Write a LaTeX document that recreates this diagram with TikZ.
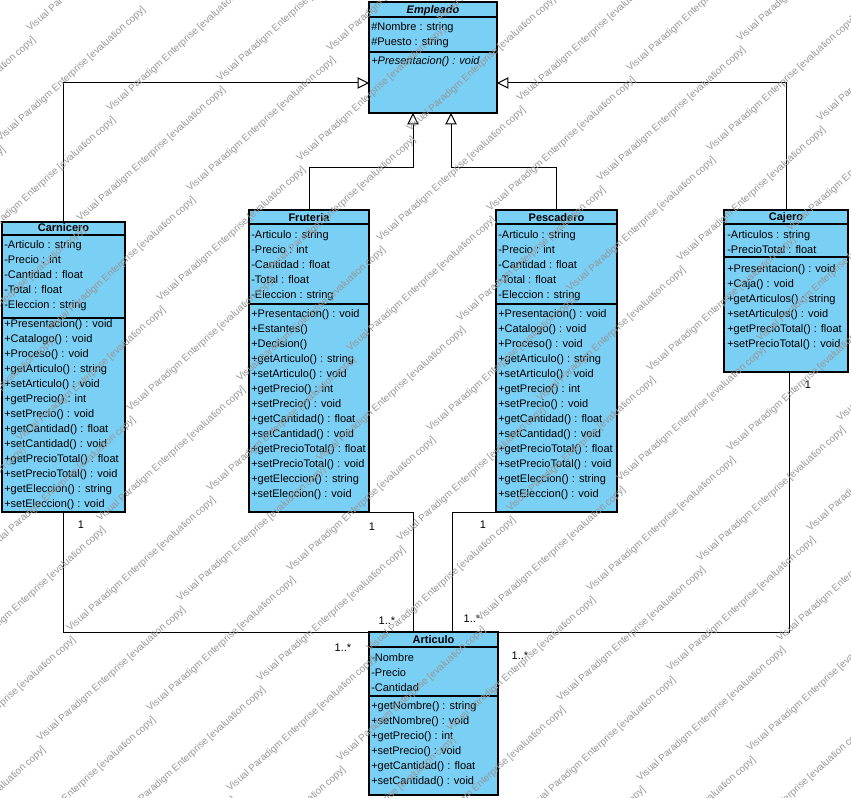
\documentclass[tikz,border=0pt]{standalone}
\usepackage{fontspec}
\setmainfont{Liberation Sans}
\usetikzlibrary{arrows.meta, fit}
\definecolor{umlBlue}{RGB}{122,207,245}
\definecolor{markGray}{RGB}{150,150,150}
\newcommand{\umlfont}{\fontsize{8.25}{10}\selectfont}

\begin{document}
\begin{tikzpicture}[
    x=0.75pt, y=-0.75pt,
    classbox/.style={draw, line width=0.9pt, fill=umlBlue, inner sep=0pt},
    sep/.style={line width=0.9pt},
    classname/.style={anchor=base, inner sep=0pt, font=\umlfont\bfseries},
    member/.style={anchor=base west, inner sep=0pt, font=\umlfont},
    mult/.style={inner sep=0pt, font=\umlfont},
    gen/.style={-{Triangle[open, length=8.5pt, width=8.5pt]}, line width=0.75pt},
    assoc/.style={line width=0.75pt},
    wmark/.style={anchor=base west, rotate=42, inner sep=0pt, text=markGray, font=\fontsize{7.4}{9}\selectfont}
]
\useasboundingbox (0,0) rectangle (851,798);

% Empleado
\node[classbox, fit={(369,2) (497,113)}] (emp) {};
\draw[sep] (369,17) -- (497,17) (369,52) -- (497,52);
\node[classname, font=\umlfont\bfseries\itshape] (emp-t) at (433,14) {Empleado};
\foreach \m [count=\i from 0] in {\#Nombre : string, \#Puesto : string}
  \node[member] (emp-a\i) at (371, 30.5+15.5*\i) {\m};
\node[member, font=\umlfont\itshape] (emp-m0) at (371,65) {+Presentacion() : void};

% Carnicero
\node[classbox, fit={(2,222) (125,512)}] (carn) {};
\draw[sep] (2,235) -- (125,235) (2,318) -- (125,318);
\node[classname] (carn-t) at (63.5,232) {Carnicero};
\foreach \m [count=\i from 0] in {-Articulo : string, -Precio : int, -Cantidad : float, -Total : float, -Eleccion : string}
  \node[member] (carn-a\i) at (4, 249+15*\i) {\m};
\foreach \m [count=\i from 0] in {+Presentacion() : void, +Catalogo() : void, +Proceso() : void, +getArticulo() : string, +setArticulo() : void, +getPrecio() : int, +setPrecio() : void, +getCantidad() : float, +setCantidad() : void, +getPrecioTotal() : float, +setPrecioTotal() : void, +getEleccion() : string, +setEleccion() : void}
  \node[member] (carn-m\i) at (4, 327.5+15*\i) {\m};

% Fruteria
\node[classbox, fit={(249,210) (369,512)}] (frut) {};
\draw[sep] (249,224) -- (369,224) (249,304) -- (369,304);
\node[classname] (frut-t) at (309,221.3) {Fruteria};
\foreach \m [count=\i from 0] in {-Articulo : string, -Precio : int, -Cantidad : float, -Total : float, -Eleccion : string}
  \node[member] (frut-a\i) at (251, 238.3+15*\i) {\m};
\foreach \m [count=\i from 0] in {+Presentacion() : void, +Estantes(), +Decision(), +getArticulo() : string, +setArticulo() : void, +getPrecio() : int, +setPrecio() : void, +getCantidad() : float, +setCantidad() : void, +getPrecioTotal() : float, +setPrecioTotal() : void, +getEleccion() : string, +setEleccion() : void}
  \node[member] (frut-m\i) at (251, 317.3+15*\i) {\m};

% Pescadero
\node[classbox, fit={(496,210) (617,512)}] (pesc) {};
\draw[sep] (496,224) -- (617,224) (496,304) -- (617,304);
\node[classname] (pesc-t) at (556.5,221.3) {Pescadero};
\foreach \m [count=\i from 0] in {-Articulo : string, -Precio : int, -Cantidad : float, -Total : float, -Eleccion : string}
  \node[member] (pesc-a\i) at (498, 238.3+15*\i) {\m};
\foreach \m [count=\i from 0] in {+Presentacion() : void, +Catalogo() : void, +Proceso() : void, +getArticulo() : string, +setArticulo() : void, +getPrecio() : int, +setPrecio() : void, +getCantidad() : float, +setCantidad() : void, +getPrecioTotal() : float, +setPrecioTotal() : void, +getEleccion() : string, +setEleccion() : void}
  \node[member] (pesc-m\i) at (498, 317.3+15*\i) {\m};

% Cajero
\node[classbox, fit={(724,210) (848,372)}] (caj) {};
\draw[sep] (724,224) -- (848,224) (724,257) -- (848,257);
\node[classname] (caj-t) at (786,220.7) {Cajero};
\foreach \m [count=\i from 0] in {-Articulos : string, -PrecioTotal : float}
  \node[member] (caj-a\i) at (727, 238.3+15*\i) {\m};
\foreach \m [count=\i from 0] in {+Presentacion() : void, +Caja() : void, +getArticulos() : string, +setArticulos() : void, +getPrecioTotal() : float, +setPrecioTotal() : void}
  \node[member] (caj-m\i) at (727, 272.3+15*\i) {\m};

% Articulo
\node[classbox, fit={(369,632) (498,795)}] (art) {};
\draw[sep] (369,647) -- (498,647) (369,696) -- (498,696);
\node[classname] (art-t) at (433.5,644) {Articulo};
\foreach \m [count=\i from 0] in {-Nombre, -Precio, -Cantidad}
  \node[member] (art-a\i) at (371, 661.3+15*\i) {\m};
\foreach \m [count=\i from 0] in {+getNombre() : string, +setNombre() : void, +getPrecio() : int, +setPrecio() : void, +getCantidad() : float, +setCantidad() : void}
  \node[member] (art-m\i) at (371, 710+15*\i) {\m};

% connector ends
\coordinate (empL) at (369,83);
\coordinate (empR) at (497,83);
\coordinate (empB1) at (413,113);
\coordinate (empB2) at (451,113);
\coordinate (artL) at (369,633);
\coordinate (artR) at (498,633);
\coordinate (artT1) at (413,632);
\coordinate (artT2) at (452,632);

% generalizations
\draw[gen] (carn.north) |- (empL);
\draw[gen] (frut.north) -- ++(0,-42) -| (empB1);
\draw[gen] (pesc.north) -- ++(0,-42) -| (empB2);
\draw[gen] (caj.north) |- (empR);

% associations
\draw[assoc] (carn.south) |- (artL);
\draw[assoc] (frut.south east) -| (artT1);
\draw[assoc] (pesc.south west) -| (artT2);
\draw[assoc] ([xshift=2.25pt]caj.south) |- (artR);

\node[mult] (m1) at (81,525) {1};
\node[mult] (m2) at (343,648) {1..*};
\node[mult] (m3) at (372,527) {1};
\node[mult] (m4) at (387,621) {1..*};
\node[mult] (m5) at (483,525) {1};
\node[mult] (m6) at (472,619) {1..*};
\node[mult] (m7) at (808,385) {1};
\node[mult] (m8) at (520,656) {1..*};

% watermark
\begin{scope}
\clip (0,0) rectangle (851,798);
\foreach \i in {-9,...,4}
  \foreach \j in {-8,...,6}
    \node[wmark] (wm\i\j) at (620+110*\i+80*\j, 482-30*\i+80*\j) {Visual Paradigm Enterprise [evaluation copy]};
\end{scope}
\end{tikzpicture}
\end{document}
